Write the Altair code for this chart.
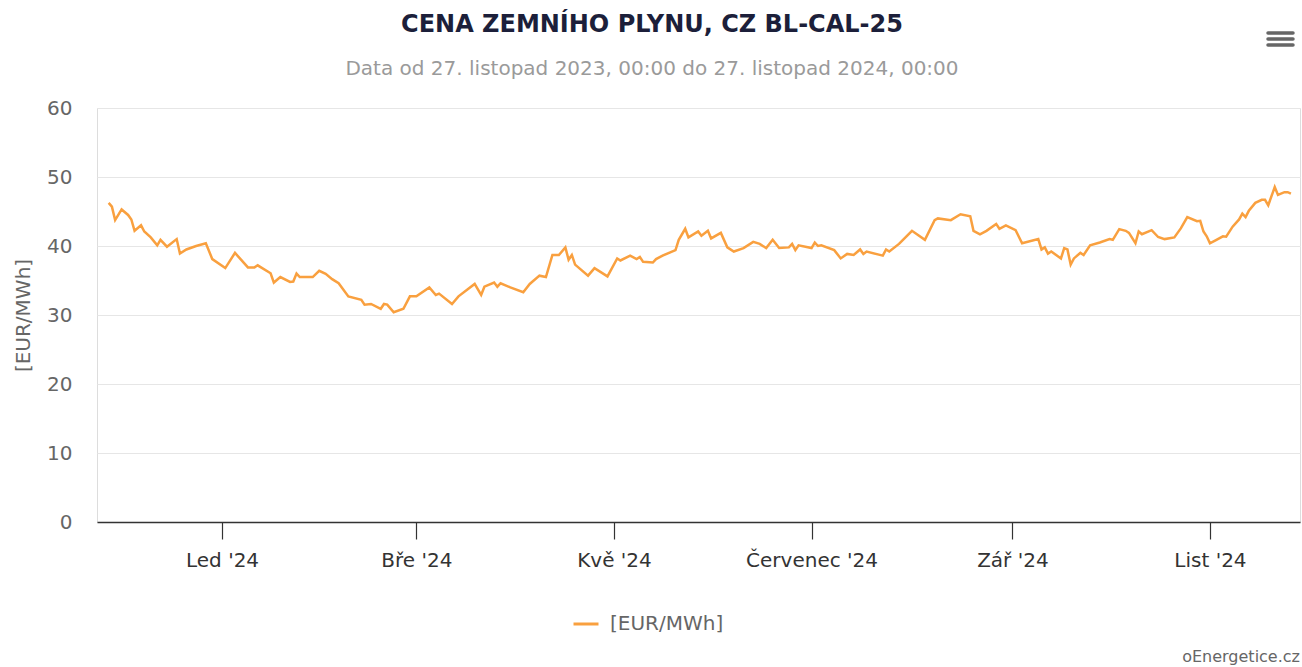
import json
import altair as alt
import pandas as pd

# ---- data (days since 1 Jan 2024, price in EUR/MWh) ----
day_offsets = [
    -35, -34, -33, -31, -29, -28, -27, -25, -24, -22, -20, -19, -17, -14, -13, -11, -8, -5, -3,
    1, 4, 8, 10, 11, 15, 16, 18, 21, 22, 23, 24, 28, 30, 32, 34, 36, 39, 43, 44, 46, 49, 50, 51,
    53, 56, 58, 60, 64, 66, 67, 71, 73, 78, 80, 81, 84, 85, 86, 89, 93, 95, 98, 100, 102, 104,
    106, 107, 108, 109, 113, 115, 119, 122, 123, 126, 128, 129, 130, 133, 134, 136, 140, 141,
    143, 144, 147, 148, 150, 151, 154, 156, 158, 161, 164, 166, 168, 170, 172, 175, 176, 177,
    178, 182, 183, 184, 185, 189, 191, 193, 195, 197, 198, 199, 204, 205, 206, 209, 211, 213,
    217, 220, 221, 225, 228, 231, 232, 234, 236, 239, 240, 242, 245, 247, 252, 253, 254, 255,
    256, 259, 260, 261, 262, 263, 265, 266, 268, 271, 274, 275, 277, 279, 280, 282, 283, 284,
    287, 289, 291, 294, 296, 298, 301, 302, 303, 304, 305, 307, 309, 310, 312, 314, 315, 316,
    317, 319, 321, 322, 323, 325, 326, 328, 329, 330,
]
prices = [
    46.25, 45.7, 43.75, 45.3, 44.5, 43.85, 42.2, 43.0, 42.1, 41.25, 40.1, 40.9, 39.9, 41.0, 38.9,
    39.5, 40.0, 40.4, 38.1,
    36.8, 39.0, 36.9, 36.9, 37.2, 36.05, 34.7, 35.5, 34.8, 34.85, 36.0, 35.5, 35.5, 36.4, 35.96,
    35.2, 34.6, 32.7, 32.2, 31.5, 31.6, 30.9, 31.6, 31.5,
    30.4, 30.9, 32.7, 32.7, 34.0, 32.9, 33.1, 31.6, 32.7, 34.5, 32.9, 34.1, 34.7, 34.1, 34.6,
    34.0, 33.3, 34.5, 35.7, 35.5, 38.7, 38.7,
    39.8, 38.0, 38.7, 37.3, 35.7, 36.8, 35.6, 38.2, 37.9, 38.6, 38.1, 38.4, 37.7, 37.6, 38.1,
    38.6, 39.4, 40.9,
    42.5, 41.25, 42.1, 41.5, 42.2, 41.1, 41.9, 39.8, 39.2, 39.7, 40.6, 40.3, 39.7, 40.9, 39.7,
    39.8, 40.3, 39.4,
    40.1, 39.7, 40.5, 40.0, 40.1, 39.4, 38.2, 38.85, 38.7, 39.5, 38.85, 39.2, 38.6, 39.5, 39.2,
    40.3, 41.25, 42.2,
    40.9, 43.75, 44.0, 43.75, 44.6, 44.3, 42.2, 41.7, 42.2, 43.2, 42.5, 43.0, 42.3, 40.4, 41.0,
    39.5, 39.8, 38.9,
    39.2, 38.2, 39.7, 39.5, 37.3, 38.2, 39.0, 38.7, 40.1, 40.5, 41.0, 40.9, 42.45, 42.2, 41.9,
    40.4, 42.1, 41.7,
    42.3, 41.3, 41.0, 41.25, 42.55, 44.2, 43.6, 43.65, 42.1, 41.4, 40.4, 40.9, 41.4, 41.35,
    42.8, 43.85, 44.7, 44.2,
    45.1, 46.25, 46.7, 46.7, 45.9, 48.55, 47.4, 47.8, 47.8, 47.6,
]
series_name = "[EUR/MWh]"
tick_labels = ["Led '24", "Bře '24", "Kvě '24", "Červenec '24", "Zář '24", "List '24"]
tick_months = [1, 3, 5, 7, 9, 11]
y_ticks = [0, 10, 20, 30, 40, 50, 60]

title_text = "CENA ZEMNÍHO PLYNU, CZ BL-CAL-25"
subtitle_text = "Data od 27. listopad 2023, 00:00 do 27. listopad 2024, 00:00"
credit_text = "oEnergetice.cz"

base = pd.Timestamp("2024-01-01")
df = pd.DataFrame({
    "date": [(base + pd.Timedelta(days=d)).strftime("%Y-%m-%d") for d in day_offsets],
    "price": prices,
    "series": series_name,
})

FONT = "DejaVu Sans"
W, H = 1203, 414
ORANGE = "#f9a03f"

label_expr = json.dumps(tick_labels) + "[floor(utcmonth(datum.value) / 2)]"

line = alt.Chart(df).mark_line(strokeWidth=2.5, color=ORANGE).encode(
    x=alt.X(
        "date:T",
        scale=alt.Scale(
            type="utc",
            domain=[
                alt.DateTime(year=2023, month=11, date=23, hours=9, minutes=36, utc=True),
                alt.DateTime(year=2024, month=11, date=28, hours=19, minutes=12, utc=True),
            ],
        ),
        axis=alt.Axis(
            title=None,
            values=[alt.DateTime(year=2024, month=m, date=1, utc=True) for m in tick_months],
            labelExpr=label_expr,
            grid=False,
            domainColor="#333333",
            domainWidth=1.5,
            tickColor="#333333",
            tickSize=17,
            tickWidth=1.2,
            labelPadding=11,
            labelFontSize=20,
            labelColor="#333333",
            labelFont=FONT,
        ),
    ),
    y=alt.Y(
        "price:Q",
        scale=alt.Scale(domain=[0, 60], nice=False),
        axis=alt.Axis(
            title="[EUR/MWh]",
            values=y_ticks,
            domain=False,
            ticks=False,
            gridColor="#e6e6e6",
            labelPadding=25,
            labelFontSize=20,
            labelColor="#666666",
            labelFont=FONT,
            titleFont=FONT,
            titleFontSize=20,
            titleFontWeight="normal",
            titleColor="#666666",
            titlePadding=13,
        ),
    ),
    color=alt.Color(
        "series:N",
        scale=alt.Scale(range=[ORANGE]),
        legend=alt.Legend(
            title=None,
            orient="none",
            legendX=475,
            legendY=502,
            symbolType="stroke",
            symbolStrokeWidth=3,
            symbolSize=625,
            labelOffset=10,
            labelFont=FONT,
            labelFontSize=20,
            labelColor="#666666",
        ),
    ),
)

titles_df = pd.DataFrame({"t": [title_text]})
title_mark = alt.Chart(titles_df).mark_text(
    align="center", baseline="middle", fontSize=24, fontWeight="bold", font=FONT, color="#1c1f3a"
).encode(text="t:N", x=alt.value(555), y=alt.value(-83))

subtitle_df = pd.DataFrame({"t": [subtitle_text]})
subtitle_mark = alt.Chart(subtitle_df).mark_text(
    align="center", baseline="middle", fontSize=20, font=FONT, color="#9a9a9a"
).encode(text="t:N", x=alt.value(555), y=alt.value(-39))

credit = alt.Chart(pd.DataFrame({"t": [credit_text]})).mark_text(
    align="right", baseline="middle", fontSize=16, font=FONT, color="#666666"
).encode(text="t:N", x=alt.value(W), y=alt.value(549))

menu_df = pd.DataFrame({"bar": [0, 1, 2]})
menu = alt.Chart(menu_df).mark_rule(strokeWidth=3.5, color="#666666", strokeCap="round").encode(
    x=alt.value(1171), x2=alt.value(1196),
    y=alt.Y("bar:O", scale=alt.Scale(range=[-78, -60]), axis=None),
)

chart = alt.layer(line, menu, title_mark, subtitle_mark, credit).properties(
    width=W,
    height=H,
    autosize=alt.AutoSizeParams(type="none"),
    padding={"left": 97, "top": 108, "right": 2, "bottom": 145},
).configure_view(stroke=None).configure(background="white")

chart.save("out.html", embed_options={"renderer": "svg", "actions": False})
